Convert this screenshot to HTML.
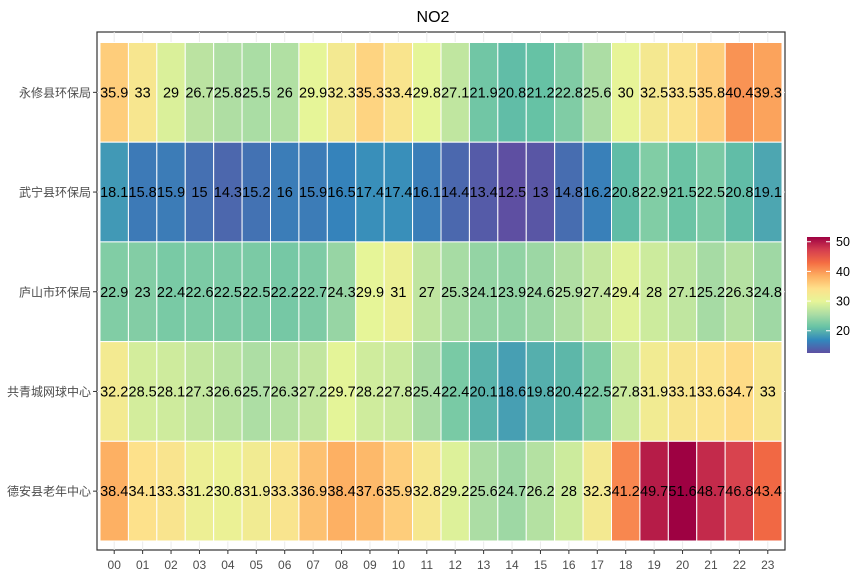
<!DOCTYPE html>
<html><head><meta charset="utf-8"><style>body{margin:0;background:#fff}svg{display:block}</style></head>
<body>
<svg id="s" width="866" height="577" xmlns="http://www.w3.org/2000/svg" font-family="Liberation Sans, Noto Sans CJK SC, sans-serif"></svg>
<script>
const rows=["永修县环保局","武宁县环保局","庐山市环保局","共青城网球中心","德安县老年中心"];
const data=[
[35.9,33,29,26.7,25.8,25.5,26,29.9,32.3,35.3,33.4,29.8,27.1,21.9,20.8,21.2,22.8,25.6,30,32.5,33.5,35.8,40.4,39.3],
[18.1,15.8,15.9,15,14.3,15.2,16,15.9,16.5,17.4,17.4,16.1,14.4,13.4,12.5,13,14.8,16.2,20.8,22.9,21.5,22.5,20.8,19.1],
[22.9,23,22.4,22.6,22.5,22.5,22.2,22.7,24.3,29.9,31,27,25.3,24.1,23.9,24.6,25.9,27.4,29.4,28,27.1,25.2,26.3,24.8],
[32.2,28.5,28.1,27.3,26.6,25.7,26.3,27.2,29.7,28.2,27.8,25.4,22.4,20.1,18.6,19.8,20.4,22.5,27.8,31.9,33.1,33.6,34.7,33],
[38.4,34.1,33.3,31.2,30.8,31.9,33.3,36.9,38.4,37.6,35.9,32.8,29.2,25.6,24.7,26.2,28,32.3,41.2,49.7,51.6,48.7,46.8,43.4]];
const pal=["#5E4FA2","#3288BD","#66C2A5","#ABDDA4","#E6F598","#FEE08B","#FDAE61","#F46D43","#D53E4F","#9E0142"];
const N=pal.length-1;
const mn=12.5,mx=51.6;
function h2r(h){return [1,3,5].map(i=>parseInt(h.substr(i,2),16));}
function col(v){let t=(v-mn)/(mx-mn)*N;let i=Math.min(N-1,Math.floor(t));let f=t-i;let a=h2r(pal[i]),b=h2r(pal[i+1]);return "rgb("+a.map((x,k)=>Math.round(x+(b[k]-x)*f)).join(",")+")";}
let s='';
s+='<text x="433" y="22" text-anchor="middle" font-size="16">NO2</text>';
s+='<rect x="97" y="32" width="688" height="518" fill="#fff" stroke="#333" stroke-width="1.2"/>';
const x0=100,cw=682/24,y0=42.5,rh=99.7;
for(let c=0;c<24;c++){let cx=x0+cw*(c+0.5);s+=`<line x1="${cx}" y1="32" x2="${cx}" y2="550" stroke="#ebebeb"/>`;}
for(let r=0;r<5;r++){let cy=y0+rh*(r+0.5);s+=`<line x1="97" y1="${cy}" x2="785" y2="${cy}" stroke="#ebebeb"/>`;}
for(let r=0;r<5;r++)for(let c=0;c<24;c++){let v=data[r][c];
s+=`<rect x="${x0+cw*c}" y="${y0+rh*r}" width="${cw}" height="${rh}" fill="${col(v)}" stroke="#fff" stroke-width="1"/>`;}
for(let r=0;r<5;r++)for(let c=0;c<24;c++){let v=data[r][c];
s+=`<text x="${x0+cw*(c+0.5)}" y="${y0+rh*(r+0.5)+5}" text-anchor="middle" font-size="14.5" fill="#000">${v}</text>`;}
for(let r=0;r<5;r++){let cy=y0+rh*(r+0.5);s+=`<line x1="93" y1="${cy}" x2="97" y2="${cy}" stroke="#333"/><text x="91" y="${cy+4.5}" text-anchor="end" font-size="12" fill="#4d4d4d">${rows[r]}</text>`;}
for(let c=0;c<24;c++){let cx=x0+cw*(c+0.5);s+=`<line x1="${cx}" y1="550" x2="${cx}" y2="554" stroke="#333"/><text x="${cx}" y="569" text-anchor="middle" font-size="12" fill="#4d4d4d">${String(c).padStart(2,'0')}</text>`;}
s+='<defs><linearGradient id="g" x1="0" y1="1" x2="0" y2="0">'+pal.map((p,i)=>`<stop offset="${i/N}" stop-color="${p}"/>`).join('')+'</linearGradient></defs>';
const by0=237,by1=353;
s+=`<rect x="807" y="${by0}" width="23" height="${by1-by0}" fill="url(#g)"/>`;
[20,30,40,50].forEach(v=>{let y=by1-(v-mn)/(mx-mn)*(by1-by0);
s+=`<line x1="807" y1="${y}" x2="811" y2="${y}" stroke="#fff"/><line x1="826" y1="${y}" x2="830" y2="${y}" stroke="#fff"/><text x="836" y="${y+4.5}" font-size="12.5" fill="#000">${v}</text>`;});
document.getElementById('s').innerHTML=s;
</script>
</body></html>
